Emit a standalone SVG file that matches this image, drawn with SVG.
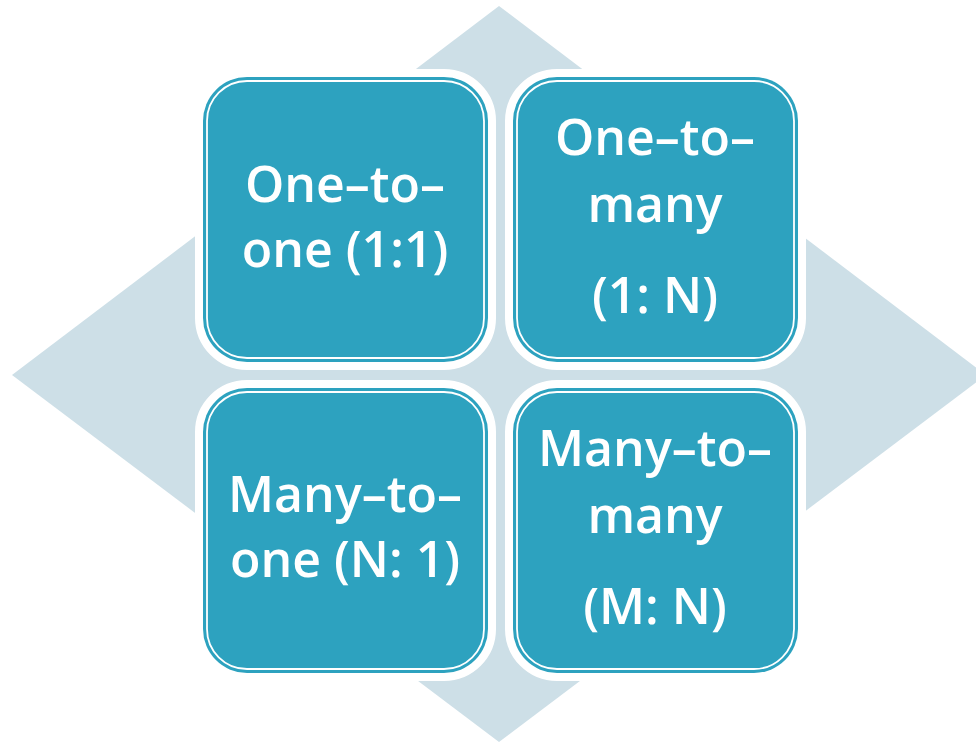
<svg xmlns="http://www.w3.org/2000/svg" width="976" height="743" viewBox="0 0 976 743">
  <style>
    .halo { fill: #ffffff; stroke: #ffffff; stroke-width: 16; }
    .card { fill: #2da2bf; }
    .rim { fill: none; stroke: #ffffff; stroke-width: 1.8; }
    .label { font-family: "Open Sans", "Noto Sans", sans-serif; font-size: 50px; font-weight: 600; fill: #ffffff; text-anchor: middle; }
  </style>
  <defs>
    <g id="tile">
      <rect class="halo" x="0" y="0" width="285" height="285" rx="44" ry="44"/>
      <rect class="card" x="0" y="0" width="285" height="285" rx="44" ry="44"/>
      <rect class="rim" x="4" y="4" width="277" height="277" rx="40" ry="40"/>
    </g>
  </defs>

  <rect width="976" height="743" fill="#ffffff"/>

  <!-- background diamond -->
  <polygon id="diamond" points="499,6 986,375 499,742 12,375" fill="#cddfe7"/>

  <g id="one-to-one" transform="translate(203,77)">
    <use href="#tile"/>
    <text class="label" x="142" y="125">One–to–</text>
    <text class="label" x="142" y="190">one (1:1)</text>
  </g>

  <g id="one-to-many" transform="translate(513,77)">
    <use href="#tile"/>
    <text class="label" x="142" y="78">One–to–</text>
    <text class="label" x="142" y="145">many</text>
    <text class="label" x="142" y="236">(1: N)</text>
  </g>

  <g id="many-to-one" transform="translate(203,388)">
    <use href="#tile"/>
    <text class="label" x="142" y="124">Many–to–</text>
    <text class="label" x="142" y="189">one (N: 1)</text>
  </g>

  <g id="many-to-many" transform="translate(513,388)">
    <use href="#tile"/>
    <text class="label" x="142" y="78">Many–to–</text>
    <text class="label" x="142" y="145">many</text>
    <text class="label" x="142" y="236">(M: N)</text>
  </g>

  <g id="connectors"/>
</svg>
